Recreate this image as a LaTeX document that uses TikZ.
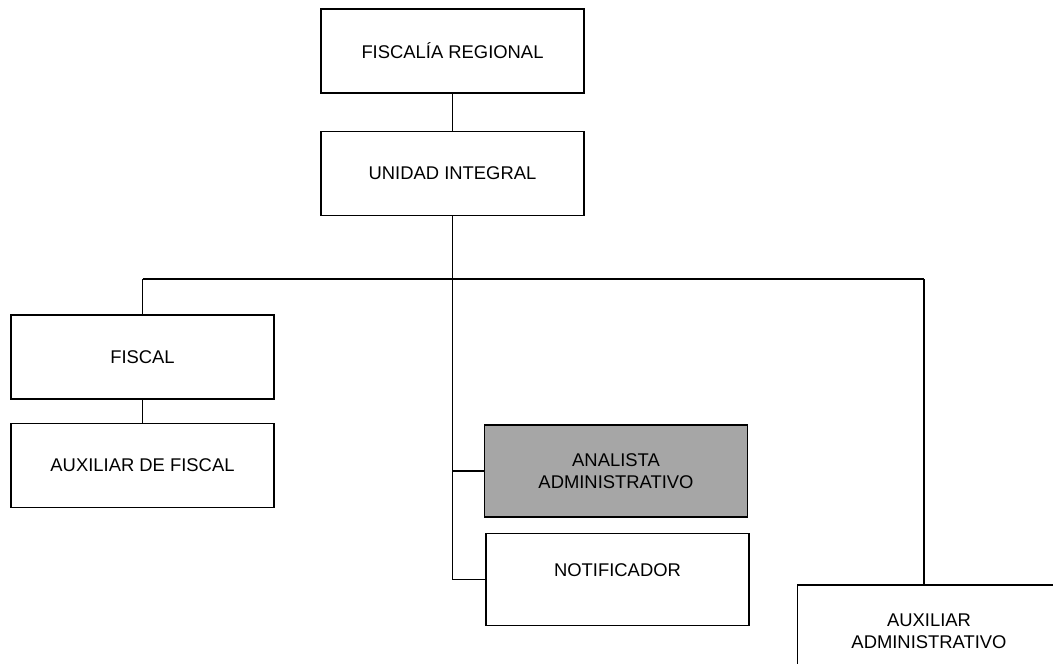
\documentclass[tikz,border=0pt]{standalone}
\usepackage{fontspec}
\setmainfont{Liberation Sans}
\usepackage{xcolor}
\usepackage{tikz}
\usetikzlibrary{
	positioning,						% Relative positioning
	calc								% Coordinate calculations
}
\definecolor{analyst-gray}{RGB}{166,166,166}

\begin{document}
\begin{tikzpicture}[x=1pt, y=-1pt]
		\tikzstyle{box} = [draw, fill=white, line width=1.5pt, minimum width=263pt, minimum height=84pt, inner sep=0pt, align=center, font=\fontsize{18.4}{22}\selectfont]
		\tikzstyle{tallbox} = [box, minimum height=92pt]
		\tikzstyle{link} = [line width=1.9pt]
		
		\useasboundingbox (0,0) rectangle (1053,664);
		\clip (0,0) rectangle (1053,664);
		
		% Top levels
		\node[box] at (452.5, 51) (regional) {FISCALÍA REGIONAL};
		\node[box, below=37pt of regional] (unidad) {UNIDAD INTEGRAL};
		\draw[link] (regional) to (unidad);
		
		% Branches
		%% Fiscal
		\node[box] at (142.5, 357) (fiscal) {FISCAL};
		\node[box, below=23pt of fiscal, text depth=-5pt] (auxFiscal) {AUXILIAR DE FISCAL};
		\draw[link] (fiscal) to (auxFiscal);
		%% Analyst and notifier
		\node[tallbox, fill=analyst-gray] at (616, 471) (analista) {ANALISTA\\ADMINISTRATIVO};
		\node[tallbox, text depth=19pt] at (617.5, 579.5) (notificador) {NOTIFICADOR};
		%% Administrative assistant (cut at the page edge)
		\node[tallbox] at (929, 631) (auxAdmin) {AUXILIAR\\ADMINISTRATIVO};
		
		% Connectors
		\coordinate (busLeft) at (fiscal.north |- 0, 279);
		\coordinate (busRight) at (924, 279);
		\draw[link] (busLeft) to (busRight);
		\draw[link] (fiscal.north) to (busLeft);
		\draw[link] (busRight) to (busRight |- auxAdmin.north);
		\draw[link] (unidad.south) to (unidad.south |- notificador.west) to (notificador.west);
		\draw[link] (unidad.south |- analista.west) to (analista.west);
	\end{tikzpicture}
\end{document}
